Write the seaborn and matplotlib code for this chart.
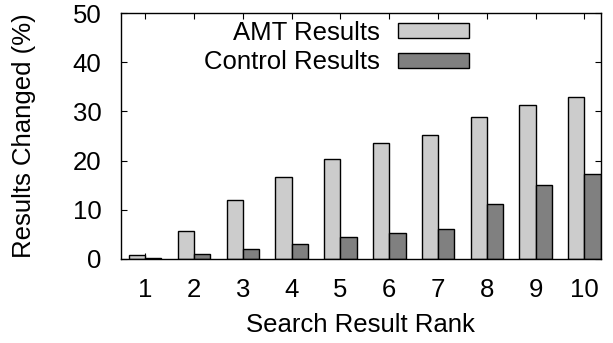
import matplotlib
matplotlib.use("Agg")
import matplotlib.pyplot as plt
import seaborn as sns
import pandas as pd

ranks = ["1", "2", "3", "4", "5", "6", "7", "8", "9", "10"]
amt_results = [0.7, 5.6, 12.0, 16.7, 20.4, 23.5, 25.2, 28.8, 31.4, 33.0]
control_results = [0.15, 0.9, 2.0, 2.9, 4.4, 5.3, 6.1, 11.1, 15.0, 17.3]
series_names = ["AMT Results", "Control Results"]
colors = ["#cccccc", "#808080"]

df = pd.DataFrame({
    "rank": ranks * 2,
    "value": amt_results + control_results,
    "series": [series_names[0]] * len(ranks) + [series_names[1]] * len(ranks),
})

sns.set_style("ticks")
plt.rcParams["font.family"] = ["Liberation Sans", "DejaVu Sans"]
plt.rcParams["text.color"] = "black"
plt.rcParams["xtick.color"] = "black"
plt.rcParams["ytick.color"] = "black"
plt.rcParams["axes.labelcolor"] = "black"
FS = 18.5

fig = plt.figure(figsize=(6.13, 3.43), dpi=100)
ax = fig.add_axes([0.197, 0.246, 0.783, 0.715])

sns.barplot(data=df, x="rank", y="value", hue="series", order=ranks,
            hue_order=series_names, palette=colors, width=0.667, gap=0,
            edgecolor="black", linewidth=1.0, saturation=1, ax=ax)

ax.set_xlim(-0.5, 9.333)
ax.set_ylim(0, 50)
ax.set_yticks([0, 10, 20, 30, 40, 50])
ax.set_xlabel("Search Result Rank", fontsize=FS, va="baseline")
ax.set_ylabel("Results Changed (%)", fontsize=FS, va="center")
ax.xaxis.set_label_coords(360 / 613, 1 - 331.5 / 343, transform=fig.transFigure)
ax.yaxis.set_label_coords(24 / 613, 1 - 136 / 343, transform=fig.transFigure)
for s in ax.spines.values():
    s.set_visible(True)
    s.set_linewidth(1.0)
    s.set_color("black")
ax.tick_params(axis="both", direction="in", length=4.5, width=0.8,
               top=True, right=True, labelsize=FS, color="black")
ax.tick_params(axis="x", pad=14)
ax.tick_params(axis="y", pad=14)

handles, labels = ax.get_legend_handles_labels()
ax.legend(handles, labels, loc="upper right",
          bbox_to_anchor=(469 / 613, 1 - 21 / 343), bbox_transform=fig.transFigure,
          frameon=False, markerfirst=False, fontsize=FS, handlelength=2.76,
          handleheight=0.52, handletextpad=0.7, labelspacing=0.2,
          borderpad=0, borderaxespad=0)

fig.savefig("out.png", dpi=100)
